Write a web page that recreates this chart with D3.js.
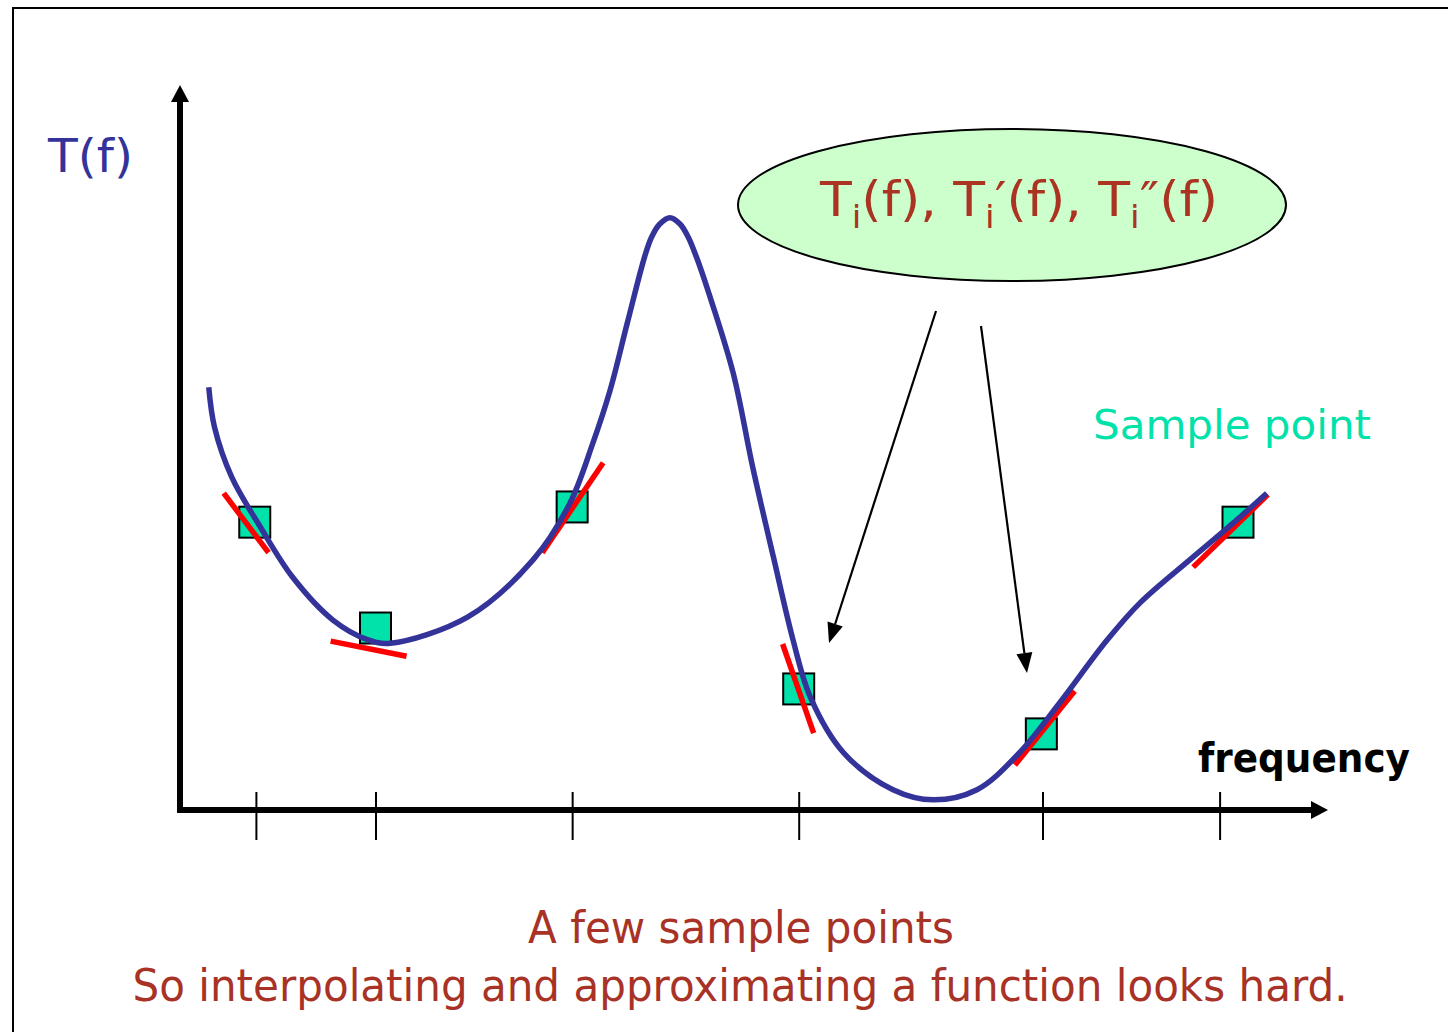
<!DOCTYPE html>
<html><head><meta charset="utf-8">
<script src="https://cdn.jsdelivr.net/npm/d3@7"></script>
<style>body{margin:0;background:#fff;} svg{display:block;}</style>
</head><body>
<svg id="c" width="1448" height="1032"></svg>
<script>
// ---- data (frequency units 0..10, T units 0..10) ----
const curveF = [0.25,0.30,0.45,0.70,0.98,1.33,1.63,1.83,2.50,3.07,3.39,3.59,3.74,3.89,4.04,4.10,4.17,4.26,4.35,4.42,4.49,4.59,4.81,4.98,5.16,5.33,5.48,5.77,6.20,6.55,6.93,7.30,7.65,8.06,8.35,8.78,9.16,9.45];
const curveT = [5.83,5.28,4.59,3.90,3.21,2.62,2.35,2.30,2.66,3.45,4.23,5.06,5.79,6.72,7.63,7.90,8.08,8.17,8.08,7.90,7.63,7.17,6.03,4.73,3.49,2.35,1.56,0.79,0.28,0.14,0.28,0.79,1.48,2.34,2.86,3.45,3.96,4.37];
const sampleF = [0.65,1.70,3.41,5.38,7.49,9.20];
const sampleT = [3.97,2.51,4.18,1.67,1.05,3.97];
const tickF = [0.66,1.70,3.41,5.38,7.50,9.04];
// tangent segments: start f, start T, end f, end T
const tanF1 = [0.38,1.31,3.15,5.24,7.26,8.81];
const tanT1 = [4.37,2.33,3.55,2.29,0.62,3.35];
const tanF2 = [0.77,1.97,3.68,5.51,7.78,9.46];
const tanT2 = [3.55,2.12,4.79,1.06,1.64,4.35];
const yLabel = "T(f)";
const xLabel = "frequency";
const legendLabel = "Sample point";
const captionLines = ["A few sample points", "So interpolating and approximating a function looks hard."];

const svg = d3.select("#c");
const FONT = "'DejaVu Sans',sans-serif";

// frame
svg.append("rect").attr("x",13).attr("y",8).attr("width",1500).attr("height",1100)
  .attr("fill","none").attr("stroke","#000").attr("stroke-width",2);

const x = d3.scaleLinear().domain([0,10]).range([180,1330]);
const y = d3.scaleLinear().domain([0,10]).range([810,85]);

// axes lines
svg.append("line").attr("x1",x(0)).attr("y1",y(0)+3).attr("x2",x(0)).attr("y2",y(10)+15)
  .attr("stroke","#000").attr("stroke-width",6);
svg.append("path").attr("d",`M${x(0)},${y(10)} L${x(0)-9},${y(10)+17} L${x(0)+9},${y(10)+17} Z`).attr("fill","#000");
svg.append("line").attr("x1",x(0)-3).attr("y1",y(0)).attr("x2",x(10)-18).attr("y2",y(0))
  .attr("stroke","#000").attr("stroke-width",6);
svg.append("path").attr("d",`M${x(10)-2},${y(0)} L${x(10)-19},${y(0)-9} L${x(10)-19},${y(0)+9} Z`).attr("fill","#000");

// ticks via d3 axis
const ax = svg.append("g").attr("transform",`translate(0,${y(0)})`)
  .call(d3.axisBottom(x).tickValues(tickF).tickSize(30).tickFormat(""));
ax.select(".domain").remove();
ax.selectAll(".tick line").attr("y1",-18).attr("stroke","#000").attr("stroke-width",2);

// sample squares
const S = 31;
svg.selectAll("rect.sample").data(d3.range(sampleF.length)).join("rect").attr("class","sample")
  .attr("x",i=>x(sampleF[i])-S/2).attr("y",i=>y(sampleT[i])-S/2)
  .attr("width",S).attr("height",S)
  .attr("fill","#00e2aa").attr("stroke","#000").attr("stroke-width",2);

// tangents
svg.selectAll("line.tan").data(d3.range(tanF1.length)).join("line").attr("class","tan")
  .attr("x1",i=>x(tanF1[i])).attr("y1",i=>y(tanT1[i]))
  .attr("x2",i=>x(tanF2[i])).attr("y2",i=>y(tanT2[i]))
  .attr("stroke","#ff0000").attr("stroke-width",5.5);

// curve
const line = d3.line().x(d=>x(d[0])).y(d=>y(d[1])).curve(d3.curveCatmullRom.alpha(0.5));
svg.append("path").datum(d3.zip(curveF,curveT)).attr("d",line)
  .attr("fill","none").attr("stroke","#333399").attr("stroke-width",5.5)
  .attr("stroke-linejoin","round");

// ellipse annotation
svg.append("ellipse").attr("cx",1012).attr("cy",205).attr("rx",274).attr("ry",76)
  .attr("fill","#ccffcc").attr("stroke","#000").attr("stroke-width",2);
const et = svg.append("text").attr("x",1019).attr("y",216).attr("text-anchor","middle")
  .attr("font-family",FONT).attr("font-size",48).attr("fill","#aa3322")
  .attr("textLength",398).attr("lengthAdjust","spacingAndGlyphs");
const parts = [["T",0],["i",1],["(f), T",0],["i",1],["\u2032(f), T",0],["i",1],["\u2033(f)",0]];
let cur = 0;
parts.forEach(([t,s])=>{
  const dy = s ? 12 - cur : -cur;
  et.append("tspan").text(t).attr("dy",dy).attr("font-size",s?32:48);
  cur = s ? 12 : 0;
});

// arrows from ellipse
function arrow(x1,y1,x2,y2){
  const a = Math.atan2(y2-y1,x2-x1), L=20, W=8;
  const bx = x2 - L*Math.cos(a), by = y2 - L*Math.sin(a);
  svg.append("line").attr("x1",x1).attr("y1",y1).attr("x2",bx).attr("y2",by)
    .attr("stroke","#000").attr("stroke-width",2.2);
  svg.append("path").attr("d",`M${x2},${y2} L${bx+W*Math.sin(a)},${by-W*Math.cos(a)} L${bx-W*Math.sin(a)},${by+W*Math.cos(a)} Z`).attr("fill","#000");
}
arrow(936,311,829,643);
arrow(981,326,1027,673);

// labels
svg.append("text").attr("x",48).attr("y",172).text(yLabel)
  .attr("font-family",FONT).attr("font-size",46).attr("fill","#333399")
  .attr("textLength",85).attr("lengthAdjust","spacingAndGlyphs");
svg.append("text").attr("x",1093).attr("y",439).text(legendLabel)
  .attr("font-family",FONT).attr("font-size",40).attr("fill","#00e2aa")
  .attr("textLength",278).attr("lengthAdjust","spacingAndGlyphs");
svg.append("text").attr("x",1198).attr("y",772).text(xLabel)
  .attr("font-family",FONT).attr("font-size",40).attr("font-weight","bold").attr("fill","#000")
  .attr("textLength",212).attr("lengthAdjust","spacingAndGlyphs");

svg.append("text").attr("x",741).attr("y",943).attr("text-anchor","middle").text(captionLines[0])
  .attr("font-family",FONT).attr("font-size",45).attr("fill","#a93226")
  .attr("textLength",426).attr("lengthAdjust","spacingAndGlyphs");
svg.append("text").attr("x",740).attr("y",1001).attr("text-anchor","middle").text(captionLines[1])
  .attr("font-family",FONT).attr("font-size",45).attr("fill","#a93226")
  .attr("textLength",1215).attr("lengthAdjust","spacingAndGlyphs");
</script>
</body></html>
